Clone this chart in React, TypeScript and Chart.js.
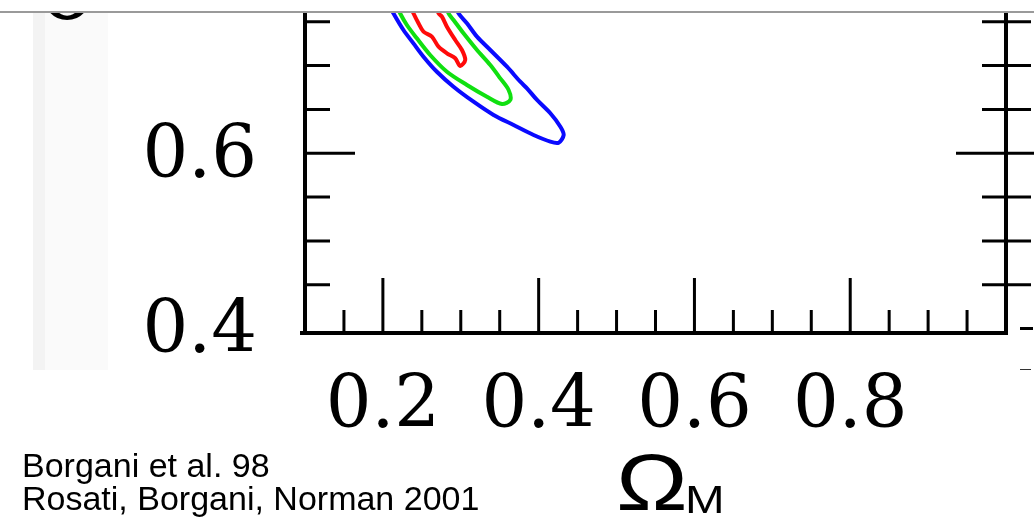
import React, { useEffect, useRef } from "react";
import { Chart, registerables } from "chart.js";

Chart.register(...registerables);

// Confidence contours (Omega_M, sigma_8)
const blueContour: [number, number][] = [
  [0.2003, 0.7805], [0.2135, 0.7597], [0.2264, 0.7406], [0.2392, 0.7254], [0.2521, 0.7102],
  [0.2693, 0.693], [0.2907, 0.6759], [0.3164, 0.6588], [0.3421, 0.6437], [0.3678, 0.6322],
  [0.3935, 0.6208], [0.415, 0.6132], [0.4257, 0.6121], [0.4321, 0.6208], [0.4279, 0.6303],
  [0.415, 0.6456], [0.3979, 0.6608], [0.385, 0.6741], [0.3764, 0.6816], [0.3593, 0.6987],
  [0.3379, 0.7178], [0.3208, 0.733], [0.3079, 0.7483], [0.2971, 0.7597], [0.2864, 0.7805],
];
const greenContour: [number, number][] = [
  [0.2106, 0.7805], [0.2221, 0.7597], [0.2308, 0.7463], [0.2436, 0.7311], [0.2607, 0.7121],
  [0.2822, 0.693], [0.3079, 0.6779], [0.3336, 0.6645], [0.3529, 0.6562], [0.3636, 0.6608],
  [0.3614, 0.6722], [0.3507, 0.6855], [0.3379, 0.7007], [0.3208, 0.7178], [0.3035, 0.7368],
  [0.2907, 0.752], [0.2842, 0.7597], [0.2761, 0.7805],
];
const redContour: [number, number][] = [
  [0.2286, 0.7805], [0.2392, 0.7597], [0.2457, 0.7483], [0.2521, 0.7387], [0.2629, 0.733],
  [0.2714, 0.7216], [0.2822, 0.714], [0.2929, 0.7083], [0.2993, 0.6996], [0.3057, 0.7064],
  [0.3015, 0.7178], [0.2929, 0.7292], [0.2822, 0.7444], [0.2758, 0.7558], [0.2714, 0.7597],
  [0.2633, 0.7805],
];

const xRange = [0.1, 1.0];
const yRange = [0.395, 0.76];
const xLabelTicks = [0.2, 0.4, 0.6, 0.8];
const xMinorTicks = [0.15, 0.25, 0.3, 0.35, 0.45, 0.5, 0.55, 0.65, 0.7, 0.75, 0.85, 0.9, 0.95];
const yLabelTicks = [0.4, 0.6];
const yMajorTicks = [0.6];
const yMinorTicks = [0.45, 0.5, 0.55, 0.65, 0.7, 0.75];

const toPts = (arr: [number, number][]) => arr.map(([x, y]) => ({ x, y }));

const frameAxes = {
  id: "frameAxes",
  afterDatasetsDraw(chart: any) {
    const { ctx, chartArea: a, scales } = chart;
    const x = scales.x;
    const y = scales.y;
    ctx.save();
    ctx.strokeStyle = "#000";
    ctx.lineCap = "butt";
    ctx.lineWidth = 4;
    ctx.beginPath();
    ctx.moveTo(a.left, a.top);
    ctx.lineTo(a.left, a.bottom + 2);
    ctx.moveTo(a.left - 5, a.bottom);
    ctx.lineTo(a.right + 2, a.bottom);
    ctx.moveTo(a.right, a.top);
    ctx.lineTo(a.right, a.bottom + 2);
    ctx.stroke();
    ctx.lineWidth = 3;
    ctx.beginPath();
    for (const v of xMinorTicks) {
      const px = x.getPixelForValue(v);
      ctx.moveTo(px, a.bottom);
      ctx.lineTo(px, a.bottom - 23);
    }
    for (const v of xLabelTicks) {
      const px = x.getPixelForValue(v);
      ctx.moveTo(px, a.bottom);
      ctx.lineTo(px, a.bottom - 55);
    }
    for (const v of yMinorTicks) {
      const py = y.getPixelForValue(v);
      ctx.moveTo(a.left, py);
      ctx.lineTo(a.left + 25, py);
      ctx.moveTo(a.right - 24, py);
      ctx.lineTo(a.right + 25, py);
    }
    for (const v of yMajorTicks) {
      const py = y.getPixelForValue(v);
      ctx.moveTo(a.left, py);
      ctx.lineTo(a.left + 50, py);
      ctx.moveTo(a.right - 50, py);
      ctx.lineTo(a.right + 28, py);
    }
    ctx.stroke();
    ctx.restore();
  },
};

export default function App() {
  const ref = useRef<HTMLCanvasElement | null>(null);

  useEffect(() => {
    if (!ref.current) return;
    const mk = (data: [number, number][], color: string) => ({
      data: toPts(data),
      showLine: true,
      borderColor: color,
      backgroundColor: color,
      borderWidth: 4,
      pointRadius: 0,
      tension: 0.3,
      clip: 0,
    });
    const tickFont = { family: "'DejaVu Serif', serif", size: 72, lineHeight: 1 };
    const noPad = (s: any) => {
      s.paddingTop = 0;
      s.paddingBottom = 0;
      s.paddingLeft = 0;
      s.paddingRight = 0;
    };
    const chart = new Chart(ref.current, {
      type: "scatter",
      data: {
        datasets: [
          mk(blueContour, "#0a0aff"),
          mk(greenContour, "#10e010"),
          mk(redContour, "#ff0a0a"),
        ],
      },
      options: {
        animation: false,
        responsive: false,
        maintainAspectRatio: false,
        layout: { padding: { top: 13, right: 28, left: 0, bottom: 0 } },
        plugins: { legend: { display: false }, tooltip: { enabled: false } },
        scales: {
          x: {
            type: "linear",
            min: xRange[0],
            max: xRange[1],
            grid: { display: false },
            border: { display: false },
            afterBuildTicks: (s: any) => {
              s.ticks = xLabelTicks.map((v) => ({ value: v }));
            },
            afterFit: (s: any) => {
              s.height = 190;
              noPad(s);
            },
            ticks: {
              font: tickFont,
              color: "#000",
              padding: 31,
              autoSkip: false,
              maxRotation: 0,
              minRotation: 0,
              callback: (v: any) => Number(v).toFixed(1),
            },
          },
          y: {
            type: "linear",
            min: yRange[0],
            max: yRange[1],
            grid: { display: false },
            border: { display: false },
            afterBuildTicks: (s: any) => {
              s.ticks = yLabelTicks.map((v) => ({ value: v }));
            },
            afterFit: (s: any) => {
              s.width = 305;
              noPad(s);
            },
            ticks: {
              font: tickFont,
              color: "#000",
              padding: 40,
              labelOffset: 5,
              autoSkip: false,
              callback: (v: any) => Number(v).toFixed(1),
            },
          },
        },
      },
      plugins: [frameAxes],
    });
    return () => chart.destroy();
  }, []);

  const abs = (s: React.CSSProperties): React.CSSProperties => ({ position: "absolute", ...s });

  return (
    <div style={abs({ left: 0, top: 0, width: 1034, height: 523, background: "#fff", overflow: "hidden" })}>
      <div style={abs({ left: 0, top: 11, width: 1034, height: 2, background: "#9a9a9a" })} />
      <div style={abs({ left: 33, top: 13, width: 75, height: 357, background: "#fafafa" })} />
      <div style={abs({ left: 33, top: 13, width: 12, height: 357, background: "#f3f3f3" })} />
      <div style={abs({ left: 30, top: 13, width: 80, height: 10, overflow: "hidden" })}>
        <span
          style={abs({
            left: 10,
            top: -70,
            fontFamily: "'DejaVu Serif', serif",
            fontSize: 90,
            lineHeight: "90px",
            color: "#000",
            whiteSpace: "nowrap",
          })}
        >
          σ
        </span>
      </div>
      <canvas ref={ref} width={1034} height={523} style={abs({ left: 0, top: 0, width: 1034, height: 523, display: "block" })} />
      <div style={abs({ left: 1020, top: 327, width: 13, height: 3, background: "#000" })} />
      <div style={abs({ left: 1020, top: 369, width: 11, height: 1, background: "#333" })} />
      <div
        style={abs({
          left: 22,
          top: 449,
          fontFamily: "'Liberation Sans', Arial, sans-serif",
          fontSize: 34,
          lineHeight: "33px",
          color: "#000",
          whiteSpace: "nowrap",
        })}
      >
        <div>Borgani et al. 98</div>
        <div>Rosati, Borgani, Norman 2001</div>
      </div>
      <div
        style={abs({
          left: 616,
          top: 443,
          fontFamily: "'Liberation Sans', Arial, sans-serif",
          fontSize: 80,
          lineHeight: "80px",
          color: "#000",
          whiteSpace: "nowrap",
          transform: "scaleX(1.2)",
          transformOrigin: "left top",
        })}
      >
        Ω
      </div>
      <div
        style={abs({
          left: 685,
          top: 480,
          fontFamily: "'Liberation Sans', Arial, sans-serif",
          fontSize: 39,
          lineHeight: "39px",
          color: "#000",
          whiteSpace: "nowrap",
          transform: "scaleX(1.22)",
          transformOrigin: "left top",
        })}
      >
        M
      </div>
    </div>
  );
}
